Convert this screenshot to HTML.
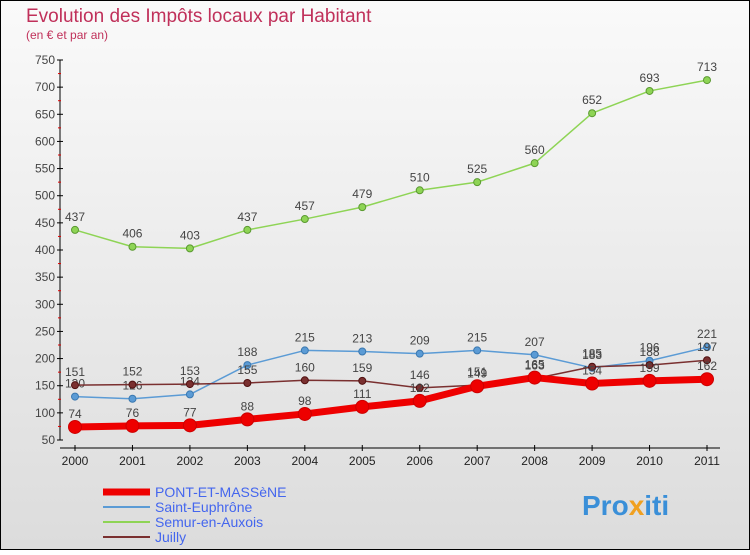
<!DOCTYPE html>
<html><head><meta charset="utf-8"><style>
body{margin:0;width:750px;height:550px;overflow:hidden;font-family:"Liberation Sans",sans-serif}
svg text{font-family:"Liberation Sans",sans-serif}
</style></head><body>
<svg id="c" width="750" height="550" xmlns="http://www.w3.org/2000/svg">
<defs><linearGradient id="bg" x1="0" y1="0" x2="0" y2="1"><stop offset="0" stop-color="#fafafa"/><stop offset="1" stop-color="#dcdcdc"/></linearGradient></defs>
<rect x="0.5" y="0.5" width="749" height="549" fill="url(#bg)" stroke="#000"/>
<text x="26" y="22" font-size="19" fill="#c0305a">Evolution des Impôts locaux par Habitant</text>
<text x="26" y="39" font-size="12" fill="#c0305a">(en € et par an)</text>
<g id="axes"></g><g id="series"></g>
<g>
<line x1="103" y1="492" x2="150" y2="492" stroke="#e00" stroke-width="7"/>
<text x="155" y="497" font-size="14" fill="#4466ee">PONT-ET-MASSèNE</text>
<line x1="103" y1="507" x2="150" y2="507" stroke="#5b9bd5" stroke-width="2"/>
<text x="155" y="512" font-size="14" fill="#4466ee">Saint-Euphrône</text>
<line x1="103" y1="522" x2="150" y2="522" stroke="#8ed455" stroke-width="2"/>
<text x="155" y="527" font-size="14" fill="#4466ee">Semur-en-Auxois</text>
<line x1="103" y1="537" x2="150" y2="537" stroke="#7a3030" stroke-width="2"/>
<text x="155" y="542" font-size="14" fill="#4466ee">Juilly</text>
</g>
<text x="582" y="515" font-size="28" font-weight="bold" fill="#3a8fd8">Pro<tspan fill="#f0a020">x</tspan><tspan fill="#3a8fd8">iti</tspan></text>
</svg>
<script>
const years=[2000,2001,2002,2003,2004,2005,2006,2007,2008,2009,2010,2011];
const yTicks=[50,100,150,200,250,300,350,400,450,500,550,600,650,700,750];
const pont=[74,76,77,88,98,111,122,149,165,154,159,162];
const saint=[130,126,134,188,215,213,209,215,207,183,196,221];
const semur=[437,406,403,437,457,479,510,525,560,652,693,713];
const juilly=[151,152,153,155,160,159,146,151,163,185,188,197];
const NS="http://www.w3.org/2000/svg";
const xs=i=>75+i*(707-75)/(years.length-1);
const ys=v=>440-(v-50)*(380/700);
function mk(t,a,p){const e=document.createElementNS(NS,t);for(const k in a)e.setAttribute(k,a[k]);p.appendChild(e);return e;}
const ax=document.getElementById('axes');
const axl=mk('line',{x1:60,y1:ys(750),x2:60,y2:ys(50),stroke:'#000'},ax);


yTicks.forEach(v=>{
 mk('line',{x1:57,y1:ys(v),x2:63,y2:ys(v),stroke:'#000'},ax);
 const t=mk('text',{x:55,y:ys(v)+4,'text-anchor':'end','font-size':12,fill:'#444'},ax);t.textContent=v;
 
 
 if(v<750)mk('line',{x1:58,y1:ys(v+25),x2:61,y2:ys(v+25),stroke:'#d00'},ax);
});
const xl=mk('line',{x1:60,y1:448,x2:720,y2:448,stroke:'#000'},ax);


years.forEach((y,i)=>{
 mk('line',{x1:xs(i),y1:445,x2:xs(i),y2:451,stroke:'#000'},ax);
 const t=mk('text',{x:xs(i),y:465,'text-anchor':'middle','font-size':12,fill:'#222'},ax);t.textContent=y;
 
 
});
const sg=document.getElementById('series');
function draw(data,name,color,w,r,stroke){
 const g=mk('g',{},sg);
 
 
 const pl=mk('polyline',{points:data.map((v,i)=>xs(i)+','+ys(v)).join(' '),fill:'none',stroke:color,'stroke-width':w,'stroke-linejoin':'round'},g);
 
 
 data.forEach((v,i)=>{
  const c=mk('circle',{cx:xs(i),cy:ys(v),r:r,fill:color,stroke:stroke,'stroke-width':1},g);
  
  
  const t=mk('text',{x:xs(i),y:ys(v)-9,'text-anchor':'middle','font-size':12,fill:'#444'},g);t.textContent=v;
  
  
 });
}
draw(semur,'semur','#8ed455',1.5,3.5,'#5a9a30');
draw(saint,'saint','#5b9bd5',1.5,3.5,'#3a78b0');
draw(juilly,'juilly','#7a3030',1.5,3.5,'#501010');
draw(pont,'pont','#e00',7,6.5,'#c00');
</script>
</body></html>
